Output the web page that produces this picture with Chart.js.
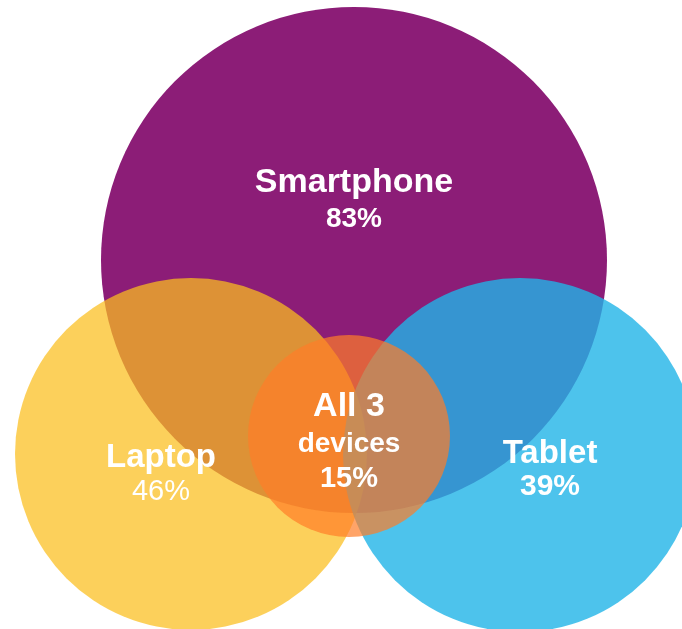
<!DOCTYPE html>
<html>
<head>
<meta charset="utf-8">
<title>Devices used</title>
<script src="https://cdn.jsdelivr.net/npm/chart.js@4.4.1/dist/chart.umd.min.js"></script>
<style>
  html, body { margin: 0; padding: 0; background: #fff; }
  #wrap { width: 682px; height: 629px; position: relative; }
</style>
</head>
<body>
<div id="wrap"><canvas id="venn"></canvas></div>
<script>
// --- DATA ---
const devices = ['Smartphone', 'Laptop', 'Tablet', ['All 3', 'devices']];
const shares = [83, 46, 39, 15];

// --- LAYOUT (diagram units on the hidden axes) ---
const centreX = [354, 191, 520, 349];
const centreY = [260, 454, 455, 436];
const radii = [253, 176, 177, 101];

// --- STYLE ---
const fills = ['#8C1D77', 'rgba(251,190,30,0.73)', 'rgba(32,180,231,0.8)', 'rgba(255,125,40,0.7)'];
const FONT = '"Liberation Sans", Arial, sans-serif';
// per circle: text shift from centre, baseline of each line, font of each line
const labelStyle = [
    { dx: 0, lines: [-68, -33], fonts: ['bold 34px', 'bold 28px'] },
    { dx: -30, lines: [13, 46], fonts: ['bold 33px', '29px'] },
    { dx: 30, lines: [8, 40], fonts: ['bold 33px', 'bold 30px'] },
    { dx: 0, lines: [-20, 16, 51], fonts: ['bold 34px', 'bold 28px', 'bold 29px'] }
];

// circle radius in pixels, taken from the x scale
function circleRadius(c) {
    const s = c.chart.scales.x;
    if (!s || !c.chart.chartArea) return 0;
    const r = s.getPixelForValue(radii[c.dataIndex]) - s.getPixelForValue(0);
    return isFinite(r) ? r : 0;
}

// writes name + share on each circle
const vennLabels = {
    id: 'vennLabels',
    afterDatasetsDraw(chart) {
        const ctx = chart.ctx;
        const points = chart.getDatasetMeta(0).data;
        ctx.save();
        ctx.fillStyle = '#ffffff';
        ctx.textAlign = 'center';
        ctx.textBaseline = 'alphabetic';
        points.forEach((pt, i) => {
            const text = [].concat(chart.data.labels[i], shares[i] + '%');
            const st = labelStyle[i];
            text.forEach((line, j) => {
                ctx.font = st.fonts[j] + ' ' + FONT;
                ctx.fillText(line, pt.x + st.dx, pt.y + st.lines[j]);
            });
        });
        ctx.restore();
    }
};

const chart = new Chart(document.getElementById('venn'), {
    type: 'scatter',
    data: {
        labels: devices,
        datasets: [{
            data: shares.map((v, i) => ({ x: centreX[i], y: centreY[i] })),
            showLine: false,
            pointBackgroundColor: fills,
            pointBorderWidth: 0,
            pointHoverBorderWidth: 0,
            pointRadius: circleRadius,
            pointHoverRadius: circleRadius
        }]
    },
    options: {
        responsive: true, maintainAspectRatio: false,
        animation: false,
        events: [],
        layout: { padding: 0, autoPadding: false },
        scales: {
            x: { type: 'linear', min: 0, max: 682, display: false },
            y: { type: 'linear', min: 0, max: 629, reverse: true, display: false }
        },
        plugins: { legend: { display: false }, tooltip: { enabled: false } }
    },
    plugins: [vennLabels]
});
</script>
</body>
</html>
